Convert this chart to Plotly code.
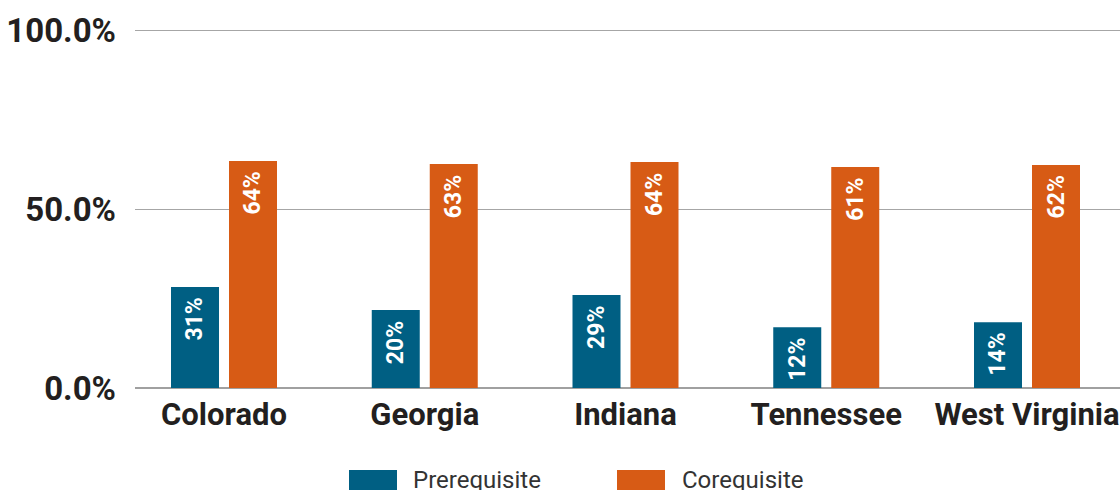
import plotly.graph_objects as go

states = ["Colorado", "Georgia", "Indiana", "Tennessee", "West Virginia"]
series_names = ["Prerequisite", "Corequisite"]
prereq_values = [28.2, 21.8, 26.0, 17.0, 18.4]
coreq_values = [63.4, 62.6, 63.1, 61.7, 62.3]
prereq_labels = ["31%", "20%", "29%", "12%", "14%"]
coreq_labels = ["64%", "63%", "64%", "61%", "62%"]
y_ticks = [0, 50, 100]
y_tick_text = [f"{v:.1f}%" for v in y_ticks]

colors = ["#005F83", "#D75B15"]
text_dark = "#231F20"
font_family = "Roboto, Arial, sans-serif"

W, H = 1120, 490
L, R = 135, 0
zero_y = 388
hundred_y = 30
T = 24
B = H - zero_y
plot_w = W - L - R
plot_h = H - T - B
px_per_unit_y = (zero_y - hundred_y) / 100.0
y_top = plot_h / px_per_unit_y

unit_px = 200.75
x0 = -(224 - L) / unit_px
x1 = x0 + plot_w / unit_px
bar_w = 48 / unit_px
offsets = [-53 / unit_px, 5 / unit_px]
centers_px = [-29, 29]

fig = go.Figure()
for name, vals, col, off in zip(series_names, [prereq_values, coreq_values], colors, offsets):
    fig.add_trace(go.Bar(
        x=states, y=vals, name=name,
        marker=dict(color=col, line=dict(width=0)),
        width=bar_w, offset=off, showlegend=False,
    ))

# value labels, rotated, at the top of each bar
for vals, labels, cpx in zip([prereq_values, coreq_values], [prereq_labels, coreq_labels], centers_px):
    for s, v, lab in zip(states, vals, labels):
        fig.add_annotation(x=s, y=v, xref="x", yref="y", xshift=cpx, yshift=-10,
                           xanchor="center", yanchor="top", textangle=-90,
                           showarrow=False, text=lab, borderpad=0,
                           font=dict(color="white", size=23, family=font_family, weight="bold"))

def px_to_paper_x(px):
    return (px - L) / plot_w

def py_to_paper_y(py):
    return (T + plot_h - py) / plot_h

# manual legend (wide swatches)
legend_items = [(349, 411), (617, 680)]
for (sx, tx), name, col in zip(legend_items, series_names, colors):
    fig.add_shape(type="rect", xref="paper", yref="paper",
                  x0=px_to_paper_x(sx), x1=px_to_paper_x(sx + 48),
                  y0=py_to_paper_y(492), y1=py_to_paper_y(470),
                  fillcolor=col, line=dict(width=0), layer="above")
    fig.add_annotation(xref="paper", yref="paper",
                       x=px_to_paper_x(tx), y=py_to_paper_y(480),
                       xanchor="left", yanchor="middle", showarrow=False,
                       text=name, font=dict(size=24, color="#333333", family=font_family))

fig.update_layout(
    width=W, height=H,
    margin=dict(l=L, r=R, t=T, b=B, pad=0, autoexpand=False),
    paper_bgcolor="white", plot_bgcolor="white",
    barmode="group",
    font=dict(family=font_family, color=text_dark),
    xaxis=dict(range=[x0, x1], showgrid=False, showline=False, zeroline=False,
               ticks="", automargin=False,
               tickfont=dict(size=31, weight="bold", color=text_dark),
               ticklabelstandoff=5),
    yaxis=dict(range=[0, y_top], tickmode="array", tickvals=y_ticks, ticktext=y_tick_text,
               showgrid=True, gridcolor="#A6A6A6", gridwidth=1.2,
               zeroline=True, zerolinecolor="#A0A0A0", zerolinewidth=1.5,
               showline=False, ticks="", automargin=False,
               tickfont=dict(size=33, weight="bold", color=text_dark),
               ticklabelstandoff=18),
)

fig.write_html(
    "out.html",
    config={"displayModeBar": False},
    post_script="document.body.style.margin='0';"
                "document.documentElement.style.overflow='hidden';"
                "document.body.style.overflow='hidden';",
)
